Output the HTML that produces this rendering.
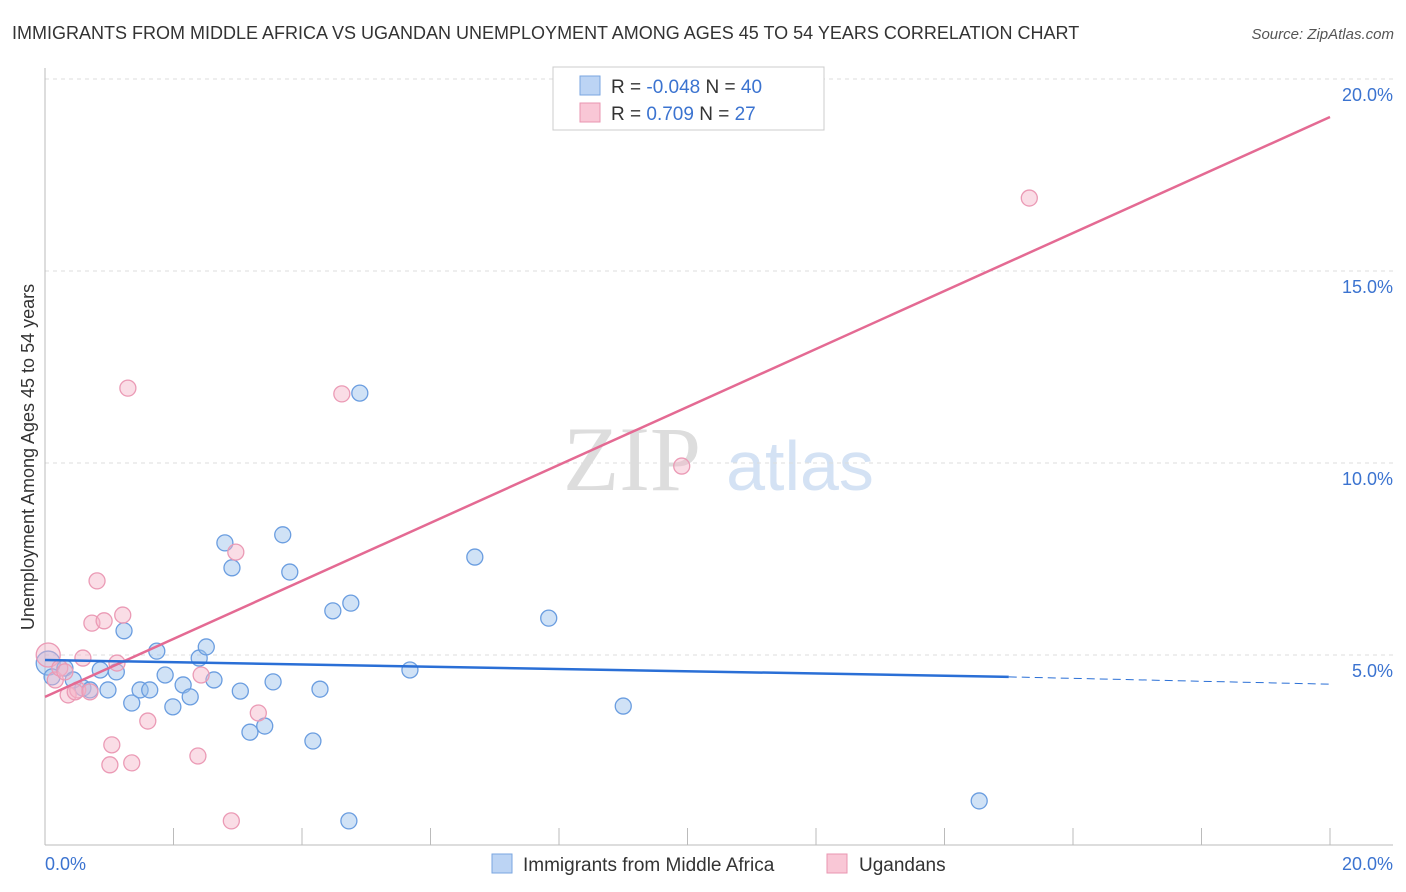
<!DOCTYPE html>
<html><head><meta charset="utf-8"><style>
body{margin:0;background:#fff;font-family:"Liberation Sans",sans-serif}
svg{display:block}
</style></head><body>
<svg id="c" width="1406" height="892">
<text x="12" y="39" font-size="18" fill="#333">IMMIGRANTS FROM MIDDLE AFRICA VS UGANDAN UNEMPLOYMENT AMONG AGES 45 TO 54 YEARS CORRELATION CHART</text>
<text x="1394" y="39" font-size="15" fill="#555" font-style="italic" text-anchor="end">Source: ZipAtlas.com</text>
<text x="632" y="490" font-size="92" fill="#ddd" font-family="Liberation Serif,serif" text-anchor="middle">ZIP</text>
<text x="800" y="490" font-size="70" fill="#d4e2f4" text-anchor="middle">atlas</text>
<text transform="translate(34,457) rotate(-90)" font-size="18" fill="#333" text-anchor="middle">Unemployment Among Ages 45 to 54 years</text>
<g id="grid"></g><g id="marks"></g>
<g>
<rect x="553" y="67" width="271" height="63" fill="#fff" stroke="#ccc"/>
<rect x="580" y="76" width="20" height="19" fill="#bcd4f4" stroke="#7aa6e0"/>
<rect x="580" y="103" width="20" height="19" fill="#f9c7d6" stroke="#e995b0"/>
<text x="611" y="93" font-size="19" fill="#333">R = <tspan fill="#3b73d0">-0.048</tspan>   N = <tspan fill="#3b73d0">40</tspan></text>
<text x="611" y="120" font-size="19" fill="#333">R =   <tspan fill="#3b73d0">0.709</tspan>   N =  <tspan fill="#3b73d0">27</tspan></text>
</g>
<g>
<rect x="492" y="854" width="20" height="19" fill="#bcd4f4" stroke="#7aa6e0"/>
<text x="523" y="871" font-size="19" fill="#333">Immigrants from Middle Africa</text>
<rect x="827" y="854" width="20" height="19" fill="#f9c7d6" stroke="#e995b0"/>
<text x="859" y="871" font-size="19" fill="#333">Ugandans</text>
</g>
</svg>
<script>
const blueX=[0.05,0.11,0.31,0.44,0.59,0.70,0.86,0.98,1.11,1.23,1.35,1.48,1.63,1.74,1.87,1.99,2.15,2.26,2.40,2.51,2.63,2.80,2.91,3.04,3.19,3.42,3.55,3.70,3.81,4.17,4.28,4.48,4.76,4.73,4.90,5.68,6.69,7.84,9.00,14.54];
const blueY=[4.79,4.43,4.66,4.35,4.14,4.09,4.61,4.09,4.56,5.63,3.75,4.09,4.09,5.10,4.48,3.65,4.22,3.91,4.92,5.21,4.35,7.92,7.27,4.06,2.99,3.15,4.30,8.13,7.16,2.76,4.11,6.15,6.35,0.68,11.82,4.61,7.55,5.96,3.67,1.20];
const pinkX=[0.05,0.16,0.36,0.51,0.59,0.73,0.81,0.92,1.04,1.01,1.12,1.21,1.29,1.35,1.60,2.38,2.43,2.90,2.97,3.32,4.62,9.91,15.32,0.47,0.23,0.70,0.31];
const pinkY=[5.0,4.35,3.96,4.09,4.92,5.83,6.93,5.89,2.66,2.14,4.79,6.04,11.95,2.19,3.28,2.37,4.48,0.68,7.68,3.49,11.80,9.92,16.90,4.04,4.66,4.04,4.56];
const blueLine=[4.87,4.43,4.24];
const pinkLine=[3.91,19.01];
const yTicks=[5,10,15,20];
const xTickLabels=["0.0%","20.0%"];
const NS="http://www.w3.org/2000/svg";
const sx=v=>45+v*64.25, sy=v=>847-v*38.4;
function mk(t,a,p){const e=document.createElementNS(NS,t);for(const k in a)e.setAttribute(k,a[k]);p.appendChild(e);return e;}
const g=document.getElementById('grid'), m=document.getElementById('marks');
for(const t of yTicks){
 const l=mk('line',{x1:45,x2:1393,y1:sy(t),y2:sy(t),stroke:'#ddd','stroke-dasharray':'4,4'},g);
 
 
 const tx=mk('text',{x:1393,y:sy(t)+22,'font-size':18,fill:'#3b73d0','text-anchor':'end'},g);
 tx.textContent=t.toFixed(1)+'%';
 
 
}
const ax=mk('line',{x1:45,x2:45,y1:68,y2:845,stroke:'#bbb'},g);


const bx=mk('line',{x1:45,x2:1393,y1:845,y2:845,stroke:'#bbb'},g);


for(let i=1;i<=10;i++){
 const t=mk('line',{x1:sx(i*2),x2:sx(i*2),y1:828,y2:845,stroke:'#bbb'},g);
 
 
}
const xl0=mk('text',{x:45,y:870,'font-size':18,fill:'#3b73d0'},g);xl0.textContent=xTickLabels[0];


const xl1=mk('text',{x:1393,y:870,'font-size':18,fill:'#3b73d0','text-anchor':'end'},g);xl1.textContent=xTickLabels[1];


blueX.forEach((x,i)=>{const c=mk('circle',{cx:sx(x),cy:sy(blueY[i]),r:i==0?12:8,fill:'rgba(150,190,235,0.45)',stroke:'#6a9de0','stroke-width':1.3},m);
 
 });
pinkX.forEach((x,i)=>{const c=mk('circle',{cx:sx(x),cy:sy(pinkY[i]),r:i==0?12:8,fill:'rgba(245,180,200,0.45)',stroke:'#eb9ab5','stroke-width':1.3},m);
 
 });
const pl=mk('line',{x1:sx(0),y1:sy(pinkLine[0]),x2:sx(20),y2:sy(pinkLine[1]),stroke:'#e46a93','stroke-width':2.5},m);


const bl=mk('line',{x1:sx(0),y1:sy(blueLine[0]),x2:sx(15),y2:sy(blueLine[1]),stroke:'#2a6fd6','stroke-width':2.5},m);


const bd=mk('line',{x1:sx(15),y1:sy(blueLine[1]),x2:sx(20),y2:sy(blueLine[2]),stroke:'#2a6fd6','stroke-width':1,'stroke-dasharray':'8,5'},m);


</script>
</body></html>
